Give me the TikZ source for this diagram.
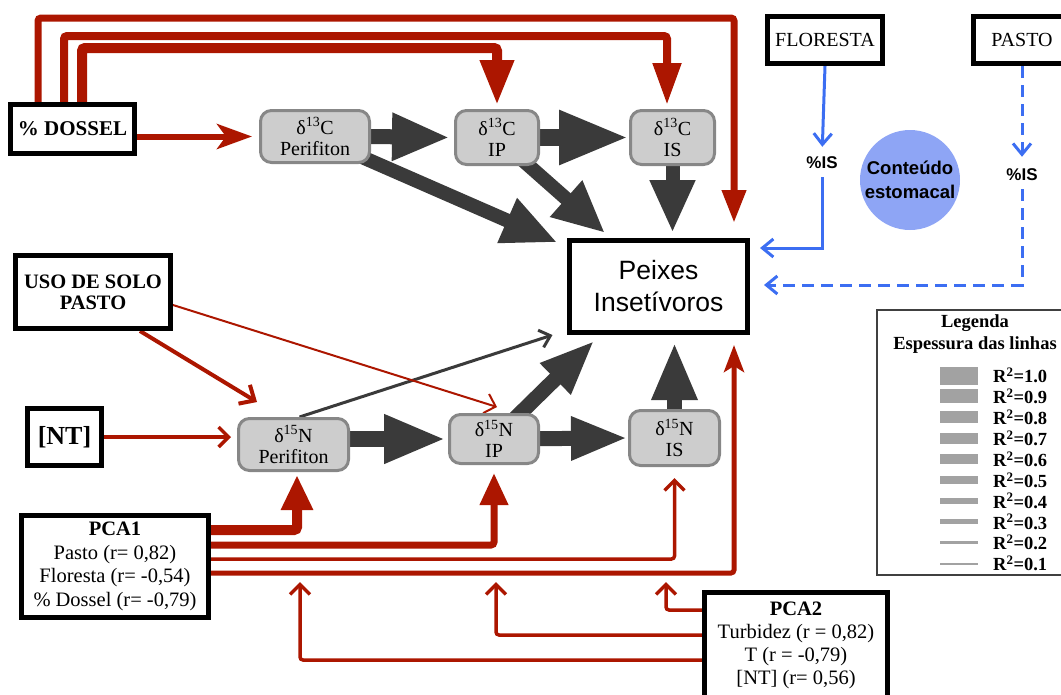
\documentclass[tikz,border=0pt]{standalone}
\usepackage{fontspec}
\setmainfont{Liberation Serif}
\newfontfamily\helvfont{Liberation Sans}
\usetikzlibrary{
    arrows.meta,
    positioning,
    calc,
    backgrounds,
    shapes.geometric
}

\definecolor{pathred}{RGB}{172,22,0}
\definecolor{pathgray}{RGB}{58,58,58}
\definecolor{isofill}{RGB}{205,205,205}
\definecolor{isoedge}{RGB}{135,135,135}
\definecolor{isblue}{RGB}{60,110,242}
\definecolor{stomachblue}{RGB}{142,165,245}
\definecolor{legendbar}{RGB}{162,162,162}

\begin{document}
\begin{tikzpicture}[
    x=1pt, y=-1pt,
    varbox/.style={
        rectangle,
        draw=black,
        line width=5pt,
        fill=white,
        align=center,
        inner sep=0pt
    },
    isotope/.style={
        rectangle,
        rounded corners=11pt,
        draw=isoedge,
        fill=isofill,
        line width=3pt,
        align=center,
        inner sep=0pt,
        minimum height=52pt,
        font=\fontsize{20pt}{21pt}\selectfont
    },
    grayflow/.style={
        draw=pathgray,
        line width=15pt,
        -{Triangle[length=58pt,width=44pt]}
    },
    redflow/.style={
        draw=pathred,
        rounded corners=3pt
    },
    redbarb/.style={
        -{Straight Barb[length=10pt,width=20pt]}
    },
    blueflow/.style={
        draw=isblue,
        line width=3pt,
        -{Straight Barb[length=11pt,width=18pt]}
    },
    legendtext/.style={
        inner sep=0pt,
        font=\bfseries\fontsize{18.5pt}{22pt}\selectfont
    }
]
\useasboundingbox (0,0) rectangle (1061,694);

% ==========================================================
% Predictors
% ==========================================================
\node[varbox, minimum width=124pt, minimum height=49pt,
      font=\bfseries\fontsize{21pt}{24pt}\selectfont] (dossel) at (72.5,129) {\% DOSSEL};

\node[varbox, minimum width=155pt, minimum height=73pt,
      font=\bfseries\fontsize{20.5pt}{21pt}\selectfont] (uso) at (93,292) {USO DE SOLO\\PASTO};

\node[varbox, minimum width=74pt, minimum height=57pt,
      font=\bfseries\fontsize{26pt}{28pt}\selectfont] (nt) at (64.5,437) {[NT]};

\node[varbox, minimum width=187pt, minimum height=102pt,
      font=\fontsize{20.5pt}{23.5pt}\selectfont] (pca1) at (115,566.5) {
    \textbf{PCA1}\\
    Pasto (r= 0,82)\\
    Floresta (r= -0,54)\\
    \% Dossel (r= -0,79)
};

\node[varbox, minimum width=183pt, minimum height=105pt,
      font=\fontsize{20.5pt}{23pt}\selectfont] (pca2) at (796,645) {
    \textbf{PCA2}\\
    Turbidez (r = 0,82)\\
    T (r = -0,79)\\
    {}[NT] (r= 0,56)
};

\node[varbox, minimum width=115pt, minimum height=47pt,
      font=\fontsize{20pt}{22pt}\selectfont] (floresta) at (825,40) {FLORESTA};

\node[varbox, minimum width=97pt, minimum height=47pt,
      font=\fontsize{20pt}{22pt}\selectfont] (pasto) at (1022,40) {PASTO};

% ==========================================================
% Isotopes
% ==========================================================
\node[isotope, minimum width=109pt] (c13peri) at (315,136.5) {δ\textsuperscript{13}C\\Perifiton};
\node[isotope, minimum width=83pt, minimum height=54pt] (c13ip) at (497,137.5) {δ\textsuperscript{13}C\\IP};
\node[isotope, minimum width=84pt, minimum height=54pt] (c13is) at (672.5,137.5) {δ\textsuperscript{13}C\\IS};

\node[isotope, minimum width=110pt] (n15peri) at (293.5,444.5) {δ\textsuperscript{15}N\\Perifiton};
\node[isotope, minimum width=89pt, minimum height=49pt] (n15ip) at (494,439) {δ\textsuperscript{15}N\\IP};
\node[isotope, minimum width=90pt, minimum height=55pt] (n15is) at (674.5,438) {δ\textsuperscript{15}N\\IS};

% ==========================================================
% Fish and stomach content
% ==========================================================
\node[varbox, minimum width=178pt, minimum height=92pt,
      font=\helvfont\fontsize{26.5pt}{32pt}\selectfont] (peixes) at (658.5,286.5) {Peixes\\Insetívoros};

\node[inner sep=0pt, font=\helvfont\bfseries\fontsize{17pt}{20pt}\selectfont] (isF) at (822,163) {\%IS};
\node[inner sep=0pt, font=\helvfont\bfseries\fontsize{17pt}{20pt}\selectfont] (isP) at (1022,175) {\%IS};

\node[circle, fill=stomachblue, minimum size=100pt, inner sep=-3pt, align=center,
      font=\helvfont\bfseries\fontsize{18.5pt}{24pt}\selectfont] (stomach) at (910,180) {Conteúdo\\estomacal};

% ==========================================================
% Legend
% ==========================================================
\node[rectangle, draw=black!75, line width=1.5pt, minimum width=196pt, minimum height=265pt] (legend) at (975,442.5) {};
\node[legendtext, align=center] (legendtitle) at (975,334) {Legenda\\Espessura das linhas};
\foreach \val/\bar [count=\i from 0] in {1.0/18,0.9/14,0.8/12,0.7/11,0.6/10,0.5/8,0.4/6,0.3/5,0.2/3.5,0.1/2} {
    \node[legendtext, anchor=west] (rsq\i) at (993,{375.5+20.9*\i}) {R\textsuperscript{2}=\val};
    \draw[legendbar, line width=\bar pt] (940,{375.5+20.9*\i}) -- (978,{375.5+20.9*\i});
}

\coordinate (topA) at (734,18);
\coordinate (topB) at (667,36);
\coordinate (topC) at (497,48);
\coordinate (modIS) at (666,582);
\coordinate (modIP) at (496,582);
\coordinate (modPeri) at (300,582);

\begin{scope}[on background layer]

% ==========================================================
% Isotope paths
% ==========================================================
\draw[grayflow] (c13peri.east) -- ([xshift=-4pt]c13ip.west);
\draw[grayflow, line width=17pt, -{Triangle[length=70pt,width=50pt]}] (c13ip.east) -- (c13is.west);
\draw[grayflow, line width=14pt, -{Triangle[length=55pt,width=45pt]}] (c13peri.center) -- ($(peixes.north west)+(-9.5,4.5)$);
\draw[grayflow, line width=14pt, -{Triangle[length=52pt,width=45pt]}] (c13ip.center) -- ($(peixes.north west)+(38,-5)$);
\draw[grayflow, line width=14pt, -{Triangle[length=53pt,width=42pt]}, shorten >=5pt] (c13is.center) -- (c13is.center |- peixes.north);

\draw[grayflow, line width=16pt, -{Triangle[length=62pt,width=45pt]}, shorten >=2pt] (n15peri.center |- n15ip.west) -- (n15ip.west);
\draw[grayflow, -{Triangle[length=57pt,width=40pt]}] (n15ip.center) -- (n15is.west);
\draw[grayflow, line width=15pt, -{Triangle[length=55pt,width=40pt]}] (n15ip.center) -- ($(peixes.south west)+(27.5,5.5)$);
\draw[grayflow, -{Triangle[length=58pt,width=42pt]}, shorten >=7pt] (n15is.center) -- (n15is.center |- peixes.south);
\draw[draw=pathgray, line width=3pt, -{Straight Barb[length=10pt,width=18pt]}] ([xshift=6pt]n15peri.north) -- ($(peixes.south west)+(-14.5,0)$);

% ==========================================================
% Canopy cover paths
% ==========================================================
\draw[redflow, line width=7pt, -{Triangle[length=33pt,width=23pt]}, shorten >=15pt]
    ([xshift=-34.5pt]dossel.north) |- (topA) -- (topA |- peixes.north);
\draw[redflow, line width=8pt, -{Triangle[length=42pt,width=27pt]}, shorten >=4pt]
    ([xshift=-8.5pt]dossel.north) |- (topB) -- (topB |- c13is.north);
\draw[redflow, line width=10pt, -{Triangle[length=45pt,width=32pt]}, shorten >=4pt]
    ([xshift=9.5pt]dossel.north) |- (topC) -- (c13ip.north);
\draw[redflow, line width=6pt, -{Stealth[length=35pt,width=25pt,inset=9pt]}, shorten >=7pt]
    (dossel.east |- c13peri.west) -- (c13peri.west);

% ==========================================================
% Land use and nitrogen paths
% ==========================================================
\draw[redflow, line width=2pt, redbarb] ([yshift=-13pt]uso.east) -- ($(n15ip.north)+(3,-6)$);
\draw[redflow, line width=4pt, -{Straight Barb[length=12pt,width=22pt]}] ([xshift=47pt]uso.south) -- ($(n15peri.north west)+(20,-15)$);
\draw[redflow, line width=3.5pt, redbarb, shorten >=6pt] (nt.east) -- (nt.east -| n15peri.west);

% ==========================================================
% PCA paths
% ==========================================================
\draw[redflow, line width=10pt, -{Triangle[length=35pt,width=30pt]}, shorten >=3pt]
    ([yshift=36.5pt]pca1.east) -| ([xshift=3.5pt]n15peri.south);
\draw[redflow, line width=7pt, -{Triangle[length=32pt,width=27pt]}, shorten >=8pt]
    ([yshift=21.5pt]pca1.east) -| (n15ip.south);
\draw[redflow, line width=3.5pt, redbarb, shorten >=11pt]
    ([yshift=7.5pt]pca1.east) -| (n15is.south);
\draw[redflow, line width=5pt, -{Stealth[length=27pt,width=20pt,inset=6pt]}, shorten >=10pt]
    ([yshift=-6.5pt]pca1.east) -| ([xshift=75.5pt]peixes.south);

\draw[redflow, line width=3.5pt, redbarb] ([yshift=35pt]pca2.west) -| (modIS);
\draw[redflow, line width=3.5pt, redbarb] ([yshift=10pt]pca2.west) -| (modIP);
\draw[redflow, line width=3.5pt, redbarb] ([yshift=-15pt]pca2.west) -| (modPeri);

% ==========================================================
% Stomach content paths
% ==========================================================
\draw[blueflow, shorten >=10pt] (floresta.south) -- (isF.north);
\draw[blueflow, shorten <=8pt, shorten >=10pt] (isF.south) |- ([yshift=38.5pt]peixes.east);
\draw[blueflow, dash pattern=on 12pt off 7pt, shorten >=12pt] (pasto.south) -- (isP.north);
\draw[blueflow, dash pattern=on 12pt off 7pt, shorten <=8pt, shorten >=14pt] (isP.south) |- ([yshift=1.5pt]peixes.east);

\end{scope}

\end{tikzpicture}
\end{document}
